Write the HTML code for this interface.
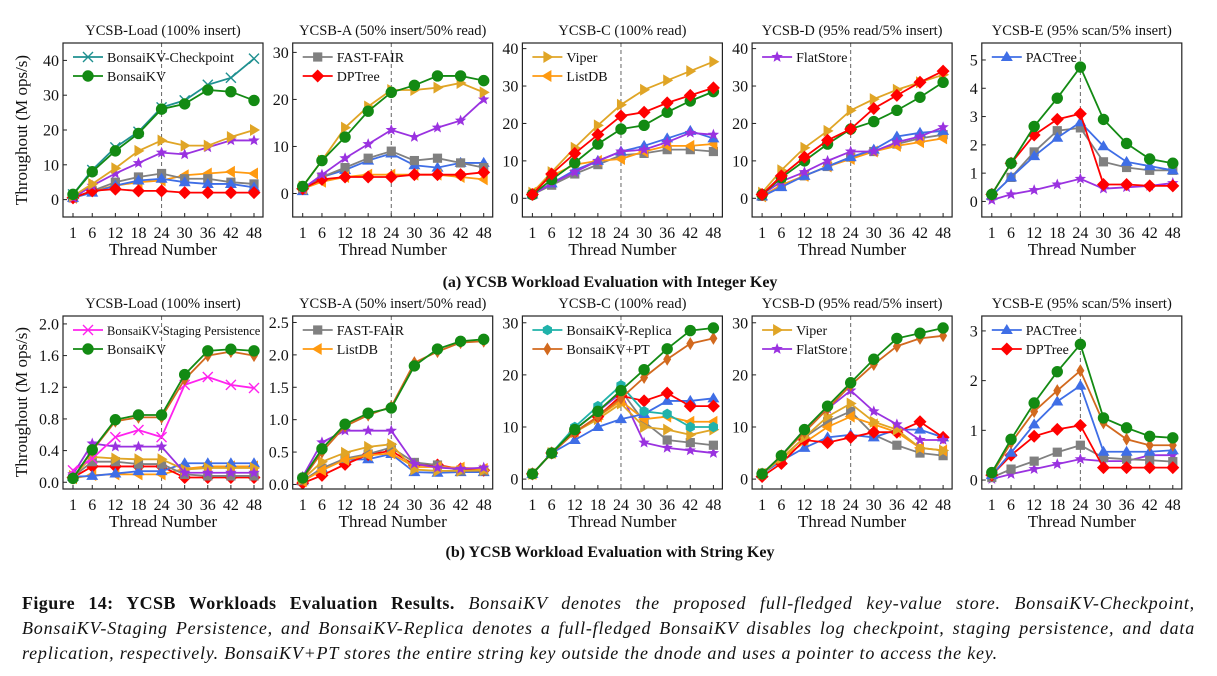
<!DOCTYPE html>
<html><head><meta charset="utf-8">
<style>
html,body{margin:0;padding:0;background:#fff;}
body{width:1217px;height:676px;overflow:hidden;position:relative;font-family:"Liberation Serif",serif;}
#cap{position:absolute;left:22px;top:591px;width:1173px;font-size:18px;letter-spacing:0.8px;line-height:25px;color:#111;}
#cap div{text-align:justify;text-align-last:justify;white-space:nowrap;}
#cap div.last{text-align-last:left;}
#cap b{font-weight:bold;letter-spacing:0.4px;}
#cap i{font-style:italic;}
</style></head>
<body>
<svg id="fig" width="1217" height="580" style="position:absolute;left:0;top:0" font-family="Liberation Serif, serif"></svg>
<div id="cap">
<div><b>Figure 14: YCSB Workloads Evaluation Results.</b> <i>BonsaiKV denotes the proposed full-fledged key-value store. BonsaiKV-Checkpoint,</i></div>
<div><i>BonsaiKV-Staging Persistence, and BonsaiKV-Replica denotes a full-fledged BonsaiKV disables log checkpoint, staging persistence, and data</i></div>
<div class="last"><i>replication, respectively. BonsaiKV+PT stores the entire string key outside the dnode and uses a pointer to access the key.</i></div>
</div>
<script>
const threads = [1,6,12,18,24,30,36,42,48];
// Top row (integer key)
const intLoadCheckpoint = [1.5,8.5,15,19.5,26.5,28.5,33,35,40.5];
const intLoadBonsai = [1.5,8,14,19,26,27.5,31.5,31,28.5];
const intLoadViper = [1,4.5,9,14,17,15.5,15.5,18,20];
const intLoadFlat = [0.5,4,7.5,10.5,13.5,13,15,17,17];
const intLoadFast = [0.5,2.5,5,6.5,7.5,6,6,5,4.5];
const intLoadPac = [0.5,2,4,5.5,6,5,4.5,4.5,3.5];
const intLoadList = [0.5,2.5,4,5,5.5,7,7.5,8,7.5];
const intLoadDP = [0.5,2.5,3,2.5,2.5,2,2,2,2];

const intABonsai = [1.5,7,12,17.5,21.5,23,25,25,24];
const intAViper = [1.5,7,14,18.5,22,22,22.5,23.5,21.5];
const intAFlat = [1,4,7.5,10.5,13.5,12,14,15.5,20];
const intAFast = [1,3.5,5.5,7.5,9,7,7.5,6.5,5.5];
const intAPac = [0.5,3.5,5,7,8.5,6,5.5,6.5,6.5];
const intADP = [1,3,3.5,3.5,3.5,4,4,4,4.5];
const intAList = [1,2.5,3.5,4,4,4,4,3.5,3];

const intCViper = [1.5,7,13.5,19.5,25,29,31.5,34,36.5];
const intCDP = [1,6.5,12,17,22,23,25.5,27.5,29.5];
const intCBonsai = [1,5,9.5,14.5,18.5,19.5,23,26,28.5];
const intCPac = [1,4,7.5,10,12.5,14,16,18,16];
const intCFlat = [1,4,7,10,12.5,13,15,17.5,17];
const intCList = [1.5,6,9,10,10.5,12.5,14,14,14.5];
const intCFast = [1,3.5,6.5,9,11.5,12,13,13,12.5];

const intDViper = [1.5,7.5,13.5,18,23.5,26.5,29,31,33];
const intDDP = [1,6,11,15.5,18.5,24,27.5,31,34];
const intDBonsai = [1,5.5,10,14.5,18.5,20.5,23.5,27,31];
const intDFlat = [1,4.5,7,10,12.5,12.5,15,16.5,19];
const intDPac = [0.5,3,6,8.5,11,13,16.5,17.5,18];
const intDFast = [0.5,3.5,6,8.5,11,12.5,14.5,16,17];
const intDList = [0.5,3.5,6,8.5,10.5,12.5,14,15,16];

const intEBonsai = [0.25,1.35,2.65,3.65,4.75,2.9,2.05,1.5,1.35];
const intEDP = [0.25,1.35,2.35,2.9,3.1,0.6,0.6,0.55,0.55];
const intEFast = [0.2,0.85,1.75,2.5,2.6,1.4,1.2,1.1,1.1];
const intEPac = [0.2,0.85,1.6,2.25,2.8,1.95,1.4,1.25,1.1];
const intEFlat = [0.05,0.25,0.4,0.6,0.8,0.45,0.5,0.55,0.65];

// Bottom row (string key)
const strLoadBonsai = [0.05,0.41,0.79,0.85,0.85,1.36,1.66,1.68,1.66];
const strLoadPT = [0.05,0.4,0.77,0.82,0.82,1.3,1.6,1.65,1.6];
const strLoadStaging = [0.15,0.3,0.57,0.66,0.57,1.23,1.33,1.23,1.19];
const strLoadFlat = [0.1,0.49,0.45,0.45,0.45,0.12,0.12,0.12,0.12];
const strLoadViper = [0.08,0.32,0.3,0.29,0.29,0.16,0.18,0.18,0.18];
const strLoadFast = [0.07,0.26,0.26,0.23,0.23,0.1,0.08,0.08,0.08];
const strLoadPac = [0.07,0.08,0.11,0.14,0.14,0.24,0.24,0.24,0.24];
const strLoadDP = [0.06,0.2,0.2,0.2,0.2,0.06,0.06,0.06,0.06];
const strLoadList = [0.05,0.09,0.1,0.1,0.1,0.17,0.2,0.2,0.2];

const strABonsai = [0.1,0.55,0.93,1.1,1.18,1.83,2.09,2.21,2.24];
const strAPT = [0.08,0.5,0.9,1.07,1.2,1.88,2.05,2.19,2.21];
const strAFlat = [0.12,0.65,0.83,0.83,0.83,0.32,0.26,0.24,0.26];
const strAViper = [0.08,0.35,0.49,0.58,0.62,0.23,0.21,0.21,0.22];
const strAFast = [0.06,0.25,0.4,0.47,0.57,0.34,0.3,0.21,0.21];
const strAList = [0.05,0.22,0.38,0.45,0.48,0.27,0.27,0.26,0.24];
const strADP = [0.02,0.14,0.31,0.46,0.52,0.3,0.3,0.24,0.22];
const strAPac = [0.05,0.25,0.38,0.39,0.47,0.19,0.18,0.19,0.19];

const strCBonsai = [1,5,9.5,13,17,21,25,28.5,29];
const strCPT = [1,5,9,12,15.5,19.5,23,26,27];
const strCReplica = [1,5,10,14,18,13,12.5,10,10];
const strCDP = [1,5,9,12,16,15,16.5,14,14];
const strCPac = [1,5,7.5,10,11.5,12.5,15,15,15.5];
const strCViper = [1,5,9,11.5,14.5,10,9.5,8.5,9.5];
const strCList = [1,5,9,12,15,11.5,12,11,11];
const strCFast = [1,5,9.5,13,17,11,7.5,7,6.5];
const strCFlat = [1,5,9.5,13,16.5,7,6,5.5,5];

const strDBonsai = [1,4.5,9.5,14,18.5,23,27,28,29];
const strDPT = [1,4.5,9,13.5,18,22,25.5,27,27.5];
const strDFlat = [1,4.5,9.5,13.5,17,13,10.5,7.5,7.5];
const strDViper = [1,4,8,12,14.5,11,9.5,6,5.5];
const strDList = [1,4,7,10,12,10.5,9,6,5.5];
const strDFast = [1,4,8,11,13,8.5,6.5,5,4.5];
const strDPac = [1,3.5,6,8,8.5,8,9.5,9.5,8];
const strDDP = [0.5,3,7.5,7,8,9,9,11,8];

const strEBonsai = [0.15,0.82,1.55,2.18,2.73,1.25,1.05,0.88,0.85];
const strEPT = [0.12,0.75,1.38,1.8,2.2,1.15,0.82,0.7,0.7];
const strEPac = [0.1,0.55,1.12,1.58,1.9,0.57,0.57,0.57,0.6];
const strEDP = [0.1,0.5,0.88,1.02,1.1,0.25,0.25,0.25,0.25];
const strEFast = [0.05,0.22,0.38,0.56,0.7,0.45,0.42,0.4,0.37];
const strEFlat = [0.02,0.12,0.22,0.32,0.42,0.38,0.38,0.5,0.5];

const STY = {
  ckpt:{c:'#1f9090',m:'x',n:'BonsaiKV-Checkpoint'},
  bonsai:{c:'#138a13',m:'o',n:'BonsaiKV'},
  staging:{c:'#ff22ee',m:'x',n:'BonsaiKV-Staging Persistence'},
  replica:{c:'#20b2aa',m:'h',n:'BonsaiKV-Replica'},
  pt:{c:'#d2691e',m:'d',n:'BonsaiKV+PT'},
  fast:{c:'#808080',m:'s',n:'FAST-FAIR'},
  dp:{c:'#ff0000',m:'D',n:'DPTree'},
  viper:{c:'#e0a526',m:'>',n:'Viper'},
  list:{c:'#ff9a10',m:'<',n:'ListDB'},
  flat:{c:'#9a32e0',m:'*',n:'FlatStore'},
  pac:{c:'#3f6ee6',m:'^',n:'PACTree'}
};

const panels = [
 {row:0,col:0,title:'YCSB-Load (100% insert)',ymin:-5,ymax:45,ticks:[0,10,20,30,40],fmt:0,leg:['ckpt','bonsai'],
  s:[['list',intLoadList],['fast',intLoadFast],['pac',intLoadPac],['dp',intLoadDP],['flat',intLoadFlat],['viper',intLoadViper],['ckpt',intLoadCheckpoint],['bonsai',intLoadBonsai]]},
 {row:0,col:1,title:'YCSB-A (50% insert/50% read)',ymin:-5,ymax:32,ticks:[0,10,20,30],fmt:0,leg:['fast','dp'],
  s:[['pac',intAPac],['fast',intAFast],['list',intAList],['dp',intADP],['flat',intAFlat],['viper',intAViper],['bonsai',intABonsai]]},
 {row:0,col:2,title:'YCSB-C (100% read)',ymin:-5,ymax:41.5,ticks:[0,10,20,30,40],fmt:0,leg:['viper','list'],
  s:[['fast',intCFast],['list',intCList],['pac',intCPac],['flat',intCFlat],['viper',intCViper],['bonsai',intCBonsai],['dp',intCDP]]},
 {row:0,col:3,title:'YCSB-D (95% read/5% insert)',ymin:-5,ymax:41.5,ticks:[0,10,20,30,40],fmt:0,leg:['flat'],
  s:[['fast',intDFast],['list',intDList],['pac',intDPac],['flat',intDFlat],['viper',intDViper],['bonsai',intDBonsai],['dp',intDDP]]},
 {row:0,col:4,title:'YCSB-E (95% scan/5% insert)',ymin:-0.55,ymax:5.6,ticks:[0,1,2,3,4,5],fmt:0,leg:['pac'],
  s:[['fast',intEFast],['pac',intEPac],['flat',intEFlat],['dp',intEDP],['bonsai',intEBonsai]]},
 {row:1,col:0,title:'YCSB-Load (100% insert)',ymin:-0.085,ymax:2.1,ticks:[0,0.4,0.8,1.2,1.6,2.0],fmt:1,leg:['staging','bonsai'],
  s:[['list',strLoadList],['dp',strLoadDP],['pac',strLoadPac],['fast',strLoadFast],['viper',strLoadViper],['flat',strLoadFlat],['staging',strLoadStaging],['pt',strLoadPT],['bonsai',strLoadBonsai]]},
 {row:1,col:1,title:'YCSB-A (50% insert/50% read)',ymin:-0.07,ymax:2.6,ticks:[0,0.5,1.0,1.5,2.0,2.5],fmt:1,leg:['fast','list'],
  s:[['pac',strAPac],['dp',strADP],['fast',strAFast],['list',strAList],['viper',strAViper],['flat',strAFlat],['pt',strAPT],['bonsai',strABonsai]]},
 {row:1,col:2,title:'YCSB-C (100% read)',ymin:-1.9,ymax:31.3,ticks:[0,10,20,30],fmt:0,leg:['replica','pt'],
  s:[['flat',strCFlat],['fast',strCFast],['viper',strCViper],['list',strCList],['pac',strCPac],['dp',strCDP],['replica',strCReplica],['pt',strCPT],['bonsai',strCBonsai]]},
 {row:1,col:3,title:'YCSB-D (95% read/5% insert)',ymin:-1.9,ymax:31.3,ticks:[0,10,20,30],fmt:0,leg:['viper','flat'],
  s:[['fast',strDFast],['list',strDList],['pac',strDPac],['dp',strDDP],['viper',strDViper],['flat',strDFlat],['pt',strDPT],['bonsai',strDBonsai]]},
 {row:1,col:4,title:'YCSB-E (95% scan/5% insert)',ymin:-0.18,ymax:3.3,ticks:[0,1,2,3],fmt:0,leg:['pac','dp'],
  s:[['flat',strEFlat],['fast',strEFast],['dp',strEDP],['pac',strEPac],['pt',strEPT],['bonsai',strEBonsai]]}
];

const NS='http://www.w3.org/2000/svg';
const svg=document.getElementById('fig');
function mk(tag,attrs,parent){const e=document.createElementNS(NS,tag);for(const k in attrs)e.setAttribute(k,attrs[k]);(parent||svg).appendChild(e);return e;}

function marker(g,m,x,y,c){
  let e;
  const r=5.2;
  if(m==='o'){e=mk('circle',{cx:x,cy:y,r:r,fill:c,stroke:c},g);}
  else if(m==='x'){e=mk('path',{d:`M${x-5},${y-5}L${x+5},${y+5}M${x-5},${y+5}L${x+5},${y-5}`,stroke:c,'stroke-width':1.4,fill:'none'},g);}
  else if(m==='s'){e=mk('rect',{x:x-4.6,y:y-4.6,width:9.2,height:9.2,fill:c},g);}
  else if(m==='D'){e=mk('path',{d:`M${x},${y-6.5}L${x+6.5},${y}L${x},${y+6.5}L${x-6.5},${y}Z`,fill:c},g);}
  else if(m==='d'){e=mk('path',{d:`M${x},${y-6.5}L${x+4},${y}L${x},${y+6.5}L${x-4},${y}Z`,fill:c},g);}
  else if(m==='>'){e=mk('path',{d:`M${x+6},${y}L${x-4},${y-6}L${x-4},${y+6}Z`,fill:c},g);}
  else if(m==='<'){e=mk('path',{d:`M${x-6},${y}L${x+4},${y-6}L${x+4},${y+6}Z`,fill:c},g);}
  else if(m==='^'){e=mk('path',{d:`M${x},${y-6}L${x+6},${y+4}L${x-6},${y+4}Z`,fill:c},g);}
  else if(m==='h'){let p='';for(let i=0;i<6;i++){const a=Math.PI/3*i+Math.PI/6;p+=(i?'L':'M')+(x+5.3*Math.cos(a))+','+(y+5.3*Math.sin(a));}e=mk('path',{d:p+'Z',fill:c},g);}
  else if(m==='*'){let p='';for(let i=0;i<10;i++){const a=-Math.PI/2+Math.PI/5*i;const rr=i%2?2.6:6;p+=(i?'L':'M')+(x+rr*Math.cos(a))+','+(y+rr*Math.sin(a));}e=mk('path',{d:p+'Z',fill:c},g);}
  
  
  return e;
}

panels.forEach((P,pi)=>{
  const L=63+P.col*229.7, R=L+200;
  const T=P.row?316:43, B=P.row?489:217;
  const x1=L+10, x48=R-9;
  const xs=v=>x1+(v-1)/47*(x48-x1);
  const ys=v=>B-(v-P.ymin)/(P.ymax-P.ymin)*(B-T);
  const g=mk('g',{});
  
  
  const tt=mk('text',{x:(L+R)/2,y:T-8,'text-anchor':'middle','font-size':14.5,fill:'#111'},g);
  tt.textContent=P.title;
  
  
  P.ticks.forEach(t=>{
    const y=ys(t);
    mk('line',{x1:L,x2:L+4,y1:y,y2:y,stroke:'#222','stroke-width':1},g);
    const lb=mk('text',{x:L-4,y:y+5.5,'text-anchor':'end','font-size':16,fill:'#111'},g);
    lb.textContent=P.fmt?t.toFixed(1):String(t);
    
    
  });
  threads.forEach(t=>{
    const x=xs(t);
    mk('line',{x1:x,x2:x,y1:B,y2:B-4,stroke:'#222','stroke-width':1},g);
    const lb=mk('text',{x:x,y:B+21,'text-anchor':'middle','font-size':16,fill:'#111'},g);
    lb.textContent=String(t);
    
    
  });
  const xl=mk('text',{x:(L+R)/2,y:B+38,'text-anchor':'middle','font-size':17,fill:'#111'},g);
  xl.textContent='Thread Number';
  
  
  mk('line',{x1:xs(24),x2:xs(24),y1:T,y2:B,stroke:'#666','stroke-width':1,'stroke-dasharray':'4,3'},g);
  P.s.forEach(([k,arr])=>{
    const st=STY[k];
    const sg=mk('g',{},g);
    
    
    const pl=mk('polyline',{points:arr.map((v,i)=>xs(threads[i])+','+ys(v)).join(' '),fill:'none',stroke:st.c,'stroke-width':1.8},sg);
    
    
    arr.forEach((v,i)=>marker(sg,st.m,xs(threads[i]),ys(v),st.c));
  });
  P.leg.forEach((k,i)=>{
    const st=STY[k];
    const y=T+14+i*19;
    const lg=mk('g',{},g);
    
    
    mk('line',{x1:L+10,x2:L+40,y1:y,y2:y,stroke:st.c,'stroke-width':1.8},lg);
    marker(lg,st.m,L+25,y,st.c);
    const tx=mk('text',{x:L+44,y:y+5,'font-size':k==='staging'?12.5:14,fill:'#111'},lg);
    tx.textContent=st.n;
  });
  mk('rect',{x:L,y:T,width:R-L,height:B-T,fill:'none',stroke:'#222','stroke-width':1.2},g);
});

[[130,'row-top'],[402,'row-bottom']].forEach(([cy,n])=>{
  const t=mk('text',{x:0,y:0,transform:`translate(27,${cy}) rotate(-90)`,'text-anchor':'middle','font-size':17,fill:'#111'});
  t.textContent='Throughout (M ops/s)';
  
  
});
[[287,'(a) YCSB Workload Evaluation with Integer Key','subcaption-a'],[557,'(b) YCSB Workload Evaluation with String Key','subcaption-b']].forEach(([y,s,n])=>{
  const t=mk('text',{x:610,y:y,'text-anchor':'middle','font-size':16,'font-weight':'bold',fill:'#111'});
  t.textContent=s;
  
  
});
</script>
</body></html>
